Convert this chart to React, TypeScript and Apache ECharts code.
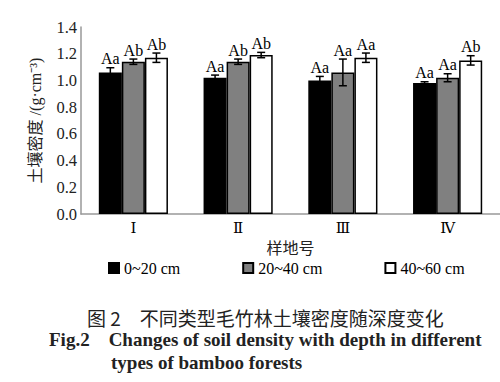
import React, { useEffect, useRef } from "react";
import * as echarts from "echarts";

const categories = ["Ⅰ", "Ⅱ", "Ⅲ", "Ⅳ"];
const seriesNames = ["0~20 cm", "20~40 cm", "40~60 cm"];
const values0 = [1.06, 1.02, 1.0, 0.98];
const values1 = [1.14, 1.14, 1.06, 1.02];
const values2 = [1.17, 1.19, 1.17, 1.15];
const errors0 = [0.035, 0.02, 0.03, 0.01];
const errors1 = [0.02, 0.02, 0.1, 0.03];
const errors2 = [0.035, 0.02, 0.035, 0.035];
const letters0 = ["Aa", "Aa", "Aa", "Aa"];
const letters1 = ["Ab", "Ab", "Aa", "Aa"];
const letters2 = ["Ab", "Ab", "Aa", "Ab"];
const yTicks = [0, 0.2, 0.4, 0.6, 0.8, 1.0, 1.2, 1.4];

const SERIF = "'Liberation Serif', 'Times New Roman', 'Noto Sans CJK SC', serif";
const CAT_GAP = 0.34;

export default function App() {
  const ref = useRef<HTMLDivElement>(null);
  useEffect(() => {
    if (!ref.current) return;
    const chart = echarts.init(ref.current, null, { renderer: "svg" });
    const vals = [values0, values1, values2];
    const errs = [errors0, errors1, errors2];
    const lets = [letters0, letters1, letters2];
    const colors = ["#000000", "#808080", "#ffffff"];

    const barSeries = seriesNames.map((name, i) => ({
      name,
      type: "bar",
      data: vals[i],
      barGap: "0%",
      barCategoryGap: `${CAT_GAP * 100}%`,
      itemStyle: { color: colors[i], borderColor: "#000", borderWidth: 1.5 },
      z: 2,
    }));

    const errSeries = seriesNames.map((name, i) => ({
      name: "err" + i,
      type: "custom",
      z: 3,
      data: vals[i].map((v, k) => [k, v, errs[i][k]]),
      encode: { x: 0, y: 1 },
      renderItem: (params: any, api: any) => {
        const idx = api.value(0);
        const v = api.value(1);
        const e = api.value(2);
        const lab = lets[i][params.dataIndex];
        const band = api.size([1, 0])[0];
        const bw = (band * (1 - CAT_GAP)) / 3;
        const c = api.coord([idx, v]);
        const x = c[0] + (i - 1) * bw;
        const hi = api.coord([idx, v + e])[1];
        const lo = api.coord([idx, v - e])[1];
        const cap = 4;
        const st = { stroke: "#000", lineWidth: 1.5 };
        return {
          type: "group",
          children: [
            { type: "line", shape: { x1: x, y1: hi, x2: x, y2: lo }, style: st },
            { type: "line", shape: { x1: x - cap, y1: hi, x2: x + cap, y2: hi }, style: st },
            { type: "line", shape: { x1: x - cap, y1: lo, x2: x + cap, y2: lo }, style: st },
            {
              type: "text",
              x,
              y: hi - 1,
              style: {
                text: lab,
                fill: "#000",
                font: `16px ${SERIF}`,
                align: "center",
                verticalAlign: "bottom",
              },
            },
          ],
        };
      },
    }));

    chart.setOption({
      animation: false,
      backgroundColor: "#fff",
      grid: { left: 81, top: 27, width: 420, height: 187, containLabel: false },
      legend: {
        data: seriesNames,
        left: 108,
        top: 260,
        padding: 0,
        itemWidth: 10,
        itemHeight: 10,
        itemGap: 62,
        icon: "rect",
        textStyle: { fontFamily: SERIF, fontSize: 16, color: "#000" },
      },
      xAxis: {
        type: "category",
        data: categories,
        name: "样地号",
        nameLocation: "middle",
        nameGap: 26,
        nameTextStyle: { fontFamily: SERIF, fontSize: 16, color: "#222" },
        axisLine: { show: true, lineStyle: { color: "#999", width: 1.5 } },
        axisTick: { show: false },
        axisLabel: {
          fontFamily: "'DejaVu Serif', 'Liberation Serif', serif",
          fontSize: 15,
          color: "#000",
          margin: 6,
        },
      },
      yAxis: {
        type: "value",
        min: yTicks[0],
        max: yTicks[yTicks.length - 1],
        interval: 0.2,
        name: "土壤密度 /(g·cm⁻³)",
        nameLocation: "middle",
        nameGap: 38,
        nameTextStyle: { fontFamily: SERIF, fontSize: 16, color: "#222" },
        splitLine: { show: false },
        axisLine: { show: true, lineStyle: { color: "#999", width: 1.5 } },
        axisTick: { show: false },
        axisLabel: {
          fontFamily: SERIF,
          fontSize: 16.5,
          color: "#222",
          margin: 4,
          formatter: (v: number) => v.toFixed(1),
        },
      },
      series: [...barSeries, ...errSeries],
      graphic: [
        {
          type: "text",
          x: 87,
          y: 317,
          style: {
            text: "图 2　不同类型毛竹林土壤密度随深度变化",
            font: `19px 'Noto Sans CJK SC', sans-serif`,
            fill: "#222",
            verticalAlign: "middle",
          },
        },
        {
          type: "text",
          x: 49,
          y: 339,
          style: {
            text: "Fig.2    Changes of soil density with depth in different",
            font: `bold 19px ${SERIF}`,
            fill: "#222",
            verticalAlign: "middle",
          },
        },
        {
          type: "text",
          x: 111,
          y: 362,
          style: {
            text: "types of bamboo forests",
            font: `bold 19px ${SERIF}`,
            fill: "#222",
            verticalAlign: "middle",
          },
        },
      ],
    });
    return () => chart.dispose();
  }, []);
  return (
    <div
      ref={ref}
      style={{ position: "fixed", left: 0, top: 0, width: 500, height: 382 }}
    />
  );
}
